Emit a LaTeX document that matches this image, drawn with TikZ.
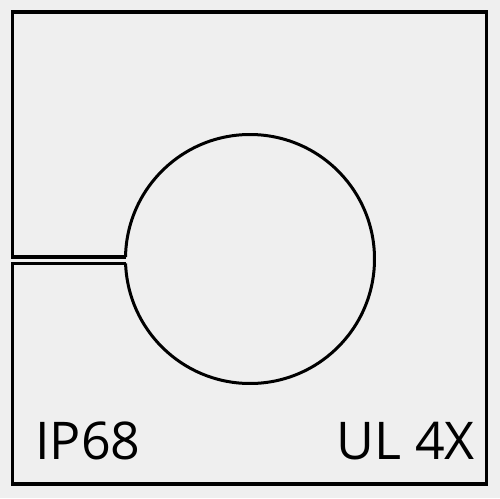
\documentclass[tikz,border=0pt]{standalone}
\usepackage{fontspec}
\setmainfont{Open Sans}
\definecolor{bg}{HTML}{EFEFEF}
\begin{document}
\begin{tikzpicture}[x=1pt,y=-1pt,
  outline/.style={draw=black,line width=3.6pt,miter limit=10},
  ring/.style={draw=black,line width=3pt},
  label/.style={inner sep=0pt,font=\fontsize{52}{60}\selectfont}]
\fill[bg] (0,0) rectangle (500,498);
\useasboundingbox (0,0) rectangle (500,498);
\coordinate (c) at (250,259);
\coordinate (sa) at (125.52,257);
\coordinate (sb) at (125.58,263.5);
\draw[outline] (sb) -- (12.5,263.5) -- (12.5,484) -- (486.5,484) -- (486.5,12) -- (12.5,12) -- (12.5,257) -- (sa);
\draw[ring] (sa) arc[start angle=180.92,end angle=537.93,radius=124.5];
\node[label,anchor=base west] (ip) at (35,459) {IP68};
\node[label,anchor=base east] (ul) at (475,459) {UL 4X};
\end{tikzpicture}
\end{document}
